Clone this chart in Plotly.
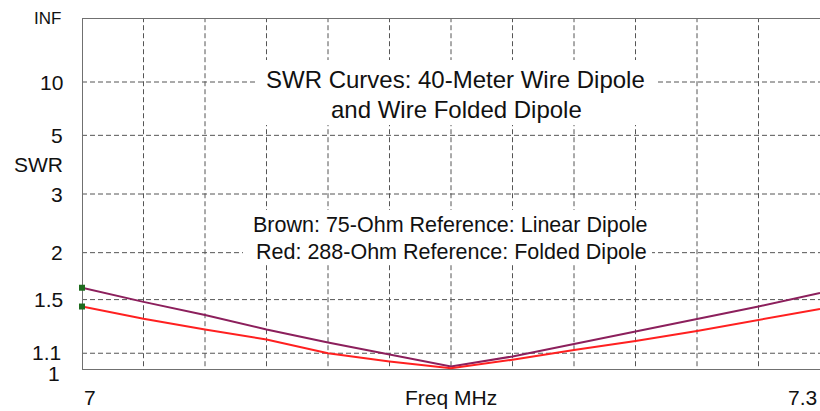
import plotly.graph_objects as go

# ---- data ----
freq_mhz = [7.000, 7.025, 7.050, 7.075, 7.100, 7.125, 7.150,
            7.175, 7.200, 7.225, 7.250, 7.275, 7.300]
swr_brown_75ohm = [1.61, 1.48, 1.37, 1.26, 1.17, 1.09, 1.02,
                   1.08, 1.16, 1.25, 1.34, 1.44, 1.56]
swr_red_288ohm = [1.44, 1.34, 1.26, 1.19, 1.10, 1.05, 1.01,
                  1.06, 1.12, 1.18, 1.25, 1.33, 1.42]
swr_grid_values = [1.1, 1.5, 2, 3, 5, 10]
swr_tick_labels = ["INF", "10", "5", "3", "2", "1.5", "1.1", "1"]
swr_tick_values = [None, 10, 5, 3, 2, 1.5, 1.1, 1]
freq_grid_values = [7.025, 7.050, 7.075, 7.100, 7.125, 7.150,
                    7.175, 7.200, 7.225, 7.250, 7.275]
x_min, x_max = 7.0, 7.3


def rho(s):
    # SWR axis is linear in reflection coefficient
    if s is None:
        return 1.0
    return (s - 1.0) / (s + 1.0)


BROWN = "#8c1f5c"
RED = "#ff2020"
GRID = "#555555"
BORDER = "#707070"
FONT = "Liberation Sans"

W, H = 820, 411
PL, PR, PT, PB = 82, 820, 18, 370   # plot area in page pixels


def px(xp):
    return (xp - PL) / (PR - PL)


def py(yp):
    return (PB - yp) / (PB - PT)


def dx(xp):
    return x_min + px(xp) * (x_max - x_min)


fig = go.Figure()
fig.add_trace(go.Scatter(x=freq_mhz, y=[rho(v) for v in swr_brown_75ohm],
                         mode="lines", line=dict(color=BROWN, width=2),
                         hoverinfo="skip", cliponaxis=False))
fig.add_trace(go.Scatter(x=freq_mhz, y=[rho(v) for v in swr_red_288ohm],
                         mode="lines", line=dict(color=RED, width=2),
                         hoverinfo="skip", cliponaxis=False))
fig.add_trace(go.Scatter(x=[freq_mhz[0], freq_mhz[0]],
                         y=[rho(swr_brown_75ohm[0]), rho(swr_red_288ohm[0])],
                         mode="markers",
                         marker=dict(symbol="square", size=6, color="#1e6b1e"),
                         hoverinfo="skip", cliponaxis=False))

shapes = []
dash = "5px,3px"
for s in swr_grid_values:
    shapes.append(dict(type="line", xref="x", yref="y", x0=x_min, x1=x_max,
                       y0=rho(s), y1=rho(s), layer="below",
                       line=dict(color=GRID, width=1, dash=dash)))
for f in freq_grid_values:
    shapes.append(dict(type="line", xref="x", yref="y", x0=f, x1=f,
                       y0=-0.012, y1=1, layer="below",
                       line=dict(color=GRID, width=1, dash=dash)))
# white boxes behind text (same layer as the grid, drawn after it)
shapes.append(dict(type="rect", xref="x", yref="y",
                   x0=dx(257), x1=dx(655), y0=py(125), y1=py(60),
                   layer="below", line=dict(width=0), fillcolor="white"))
shapes.append(dict(type="rect", xref="x", yref="y",
                   x0=dx(243), x1=dx(652), y0=py(265), y1=py(210),
                   layer="below", line=dict(width=0), fillcolor="white"))
# borders
shapes.append(dict(type="line", xref="x", yref="y", x0=x_min, x1=x_min,
                   y0=0, y1=1, layer="below", line=dict(color=BORDER, width=2)))
shapes.append(dict(type="line", xref="x", yref="y", x0=x_min, x1=x_max,
                   y0=1, y1=1, layer="below", line=dict(color=BORDER, width=2)))
shapes.append(dict(type="line", xref="x", yref="y", x0=x_min, x1=x_max,
                   y0=0, y1=0, layer="below", line=dict(color=BORDER, width=2)))

annotations = []
tfont = dict(family=FONT, size=21, color="#111111")
for lab, val in zip(swr_tick_labels, swr_tick_values):
    yy = rho(val)
    f = tfont
    if lab == "1":
        yshift, xs = -3, -20
    elif lab == "1.1":
        yshift, xs = 1, -19
    elif lab == "INF":
        yshift, xs = 0, -19
        f = dict(family=FONT, size=17, color="#111111")
    else:
        yshift, xs = 0, -17
    annotations.append(dict(x=0, y=yy, xref="paper", yref="y", text=lab,
                            showarrow=False, xanchor="right", yanchor="middle",
                            xshift=xs, yshift=yshift, font=f))
annotations.append(dict(x=px(12), y=py(164), xref="paper", yref="paper",
                        text="SWR", showarrow=False, xanchor="left",
                        yanchor="middle", font=tfont))
annotations.append(dict(x=x_min, y=py(397), xref="x", yref="paper", text="7",
                        showarrow=False, xanchor="left", yanchor="middle",
                        font=tfont))
annotations.append(dict(x=(x_min + x_max) / 2, y=py(397), xref="x", yref="paper",
                        text="Freq MHz", showarrow=False, xanchor="center",
                        yanchor="middle", font=tfont))
annotations.append(dict(x=x_max, y=py(397), xref="x", yref="paper", text="7.3",
                        showarrow=False, xanchor="right", yanchor="middle",
                        xshift=-1, font=tfont))
# title text
title_font = dict(family=FONT, size=24, color="#111111")
annotations.append(dict(x=px(455), y=py(79), xref="paper", yref="paper",
                        text="SWR Curves: 40-Meter Wire Dipole", showarrow=False,
                        xanchor="center", yanchor="middle", font=title_font))
annotations.append(dict(x=px(456), y=py(109), xref="paper", yref="paper",
                        text="and Wire Folded Dipole", showarrow=False,
                        xanchor="center", yanchor="middle", font=title_font))
leg_font = dict(family=FONT, size=21.5, color="#111111")
annotations.append(dict(x=px(450), y=py(225), xref="paper", yref="paper",
                        text="Brown: 75-Ohm Reference: Linear Dipole",
                        showarrow=False, xanchor="center", yanchor="middle",
                        font=leg_font))
annotations.append(dict(x=px(451), y=py(252), xref="paper", yref="paper",
                        text="Red: 288-Ohm Reference: Folded Dipole",
                        showarrow=False, xanchor="center", yanchor="middle",
                        font=leg_font))

fig.update_layout(
    width=W, height=H,
    margin=dict(l=PL, r=W - PR, t=PT, b=H - PB),
    paper_bgcolor="white", plot_bgcolor="white",
    showlegend=False,
    xaxis=dict(range=[x_min, x_max], showgrid=False, zeroline=False,
               showticklabels=False, ticks="", showline=False),
    yaxis=dict(range=[0, 1], showgrid=False, zeroline=False,
               showticklabels=False, ticks="", showline=False),
    shapes=shapes, annotations=annotations,
)

# remove the default page margin so the 820x411 figure fills the window
fig.write_html(
    "out.html",
    config={"displayModeBar": False, "staticPlot": True},
    post_script="document.body.style.margin='0';"
                "document.body.style.overflow='hidden';",
)
